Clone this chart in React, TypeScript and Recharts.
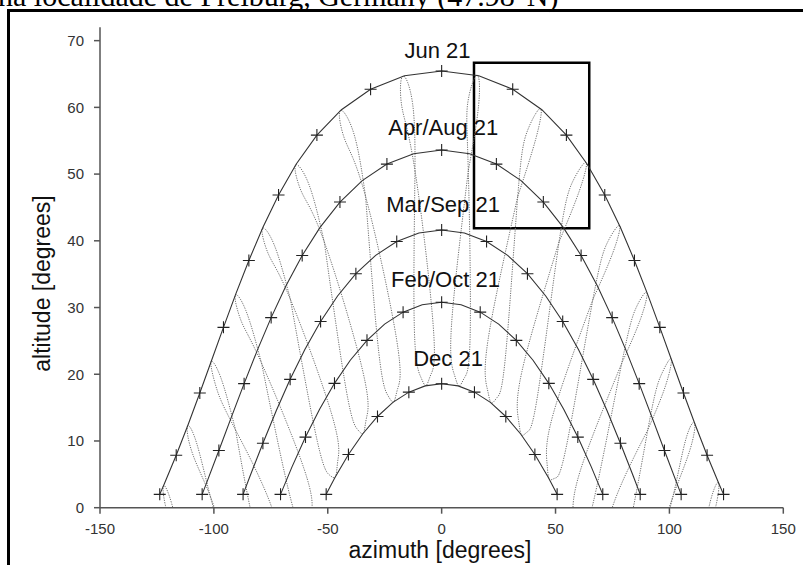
// Sun-path diagram for Freiburg (47.98°N): five day arcs with hourly "+"
// marks, and the half-hour analemmas drawn as faint dotted figure-eights.
import { Line, LineChart, ReferenceArea, ReferenceDot, XAxis, YAxis } from "recharts";

const FONT = '"Liberation Sans", Arial, sans-serif';
const AXIS = "#555";
const INK = "#333";

const xTicks = [-150, -100, -50, 0, 50, 100, 150];
const yTicks = [0, 10, 20, 30, 40, 50, 60, 70];

// Day arcs: azimuth / altitude (degrees), every half hour of solar time,
// ends where the sun is 2° up. marks = 1 where the arc carries a "+".
const junAz = [-123.77, -121.88, -116.54, -111.33, -106.18, -101.03, -95.79, -90.37, -84.64, -78.46, -71.61, -63.83, -54.77, -44.0, -31.2, -16.3, 0, 16.3, 31.2, 44.0, 54.77, 63.83, 71.61, 78.46, 84.64, 90.37, 95.79, 101.03, 106.18, 111.33, 116.54, 121.88, 123.77];
const junAlt = [2.0, 3.47, 7.85, 12.44, 17.19, 22.07, 27.03, 32.04, 37.06, 42.02, 46.87, 51.52, 55.84, 59.65, 62.72, 64.75, 65.46, 64.75, 62.72, 59.65, 55.84, 51.52, 46.87, 42.02, 37.06, 32.04, 27.03, 22.07, 17.19, 12.44, 7.85, 3.47, 2.0];
const junMarks = [1, 0, 1, 0, 1, 0, 1, 0, 1, 0, 1, 0, 1, 0, 1, 0, 1, 0, 1, 0, 1, 0, 1, 0, 1, 0, 1, 0, 1, 0, 1, 0, 1];

const aprAz = [-105.15, -103.29, -97.81, -92.32, -86.73, -80.95, -74.86, -68.34, -61.23, -53.39, -44.65, -34.87, -24.03, -12.29, 0, 12.29, 24.03, 34.87, 44.65, 53.39, 61.23, 68.34, 74.86, 80.95, 86.73, 92.32, 97.81, 103.29, 105.15];
const aprAlt = [2.0, 3.64, 8.58, 13.57, 18.59, 23.58, 28.49, 33.25, 37.79, 42.02, 45.81, 49.02, 51.5, 53.06, 53.6, 53.06, 51.5, 49.02, 45.81, 42.02, 37.79, 33.25, 28.49, 23.58, 18.59, 13.57, 8.58, 3.64, 2.0];
const aprMarks = [1, 0, 1, 0, 1, 0, 1, 0, 1, 0, 1, 0, 1, 0, 1, 0, 1, 0, 1, 0, 1, 0, 1, 0, 1, 0, 1, 0, 1];

const marAz = [-87.18, -84.15, -78.48, -72.63, -66.52, -60.06, -53.15, -45.7, -37.66, -28.98, -19.72, -9.99, 0, 9.99, 19.72, 28.98, 37.66, 45.7, 53.15, 60.06, 66.52, 72.63, 78.48, 84.15, 87.18];
const marAlt = [2.0, 4.71, 9.67, 14.53, 19.24, 23.72, 27.91, 31.73, 35.07, 37.82, 39.9, 41.18, 41.62, 41.18, 39.9, 37.82, 35.07, 31.73, 27.91, 23.72, 19.24, 14.53, 9.67, 4.71, 2.0];
const marMarks = [1, 0, 1, 0, 1, 0, 1, 0, 1, 0, 1, 0, 1, 0, 1, 0, 1, 0, 1, 0, 1, 0, 1, 0, 1];

const febAz = [-70.74, -65.7, -59.78, -53.59, -47.05, -40.12, -32.78, -25.04, -16.93, -8.54, 0, 8.54, 16.93, 25.04, 32.78, 40.12, 47.05, 53.59, 59.78, 65.7, 70.74];
const febAlt = [2.0, 6.12, 10.58, 14.77, 18.64, 22.1, 25.08, 27.51, 29.31, 30.41, 30.79, 30.41, 29.31, 27.51, 25.08, 22.1, 18.64, 14.77, 10.58, 6.12, 2.0];
const febMarks = [1, 0, 1, 0, 1, 0, 1, 0, 1, 0, 1, 0, 1, 0, 1, 0, 1, 0, 1, 0, 1];

const decAz = [-50.7, -46.9, -40.93, -34.69, -28.17, -21.4, -14.4, -7.24, 0, 7.24, 14.4, 21.4, 28.17, 34.69, 40.93, 46.9, 50.7];
const decAlt = [2.0, 4.49, 7.98, 11.05, 13.67, 15.78, 17.32, 18.26, 18.58, 18.26, 17.32, 15.78, 13.67, 11.05, 7.98, 4.49, 2.0];
const decMarks = [1, 0, 1, 0, 1, 0, 1, 0, 1, 0, 1, 0, 1, 0, 1, 0, 1];

// Arc captions and where their text sits (azimuth / altitude of its centre).
const arcLabels = ["Jun 21", "Apr/Aug 21", "Mar/Sep 21", "Feb/Oct 21", "Dec 21"];
const labelAz = [-1.8, 0.7, 0.6, 1.7, 2.8];
const labelAlt = [68.5, 57.0, 45.5, 34.3, 22.4];

// Analemmas, one per half hour from solar noon. Each starts at the loop's
// crossing, runs round the winter lobe, then the summer lobe. Points below
// 0° are clipped by the axis.
const loopAz = [
  [-112.9, -120.32, -122.17, -118.45, -112.9],
  [-95.32, -101.57, -109.41, -111.61, -107.63, -101.57, -95.32],
  [-90.52, -77.2, -71.66, -90.52, -98.81, -101.31, -97.01, -90.52],
  [-79.08, -66.23, -60.43, -57.82, -57.07, -60.41, -79.08, -87.89, -90.67, -85.97, -79.08],
  [-66.42, -54.59, -49.18, -46.57, -45.55, -48.24, -66.42, -75.8, -78.81, -73.56, -66.42],
  [-51.55, -41.79, -36.94, -34.33, -32.97, -34.73, -51.55, -61.27, -64.28, -58.45, -51.55],
  [-33.4, -27.55, -23.56, -21.01, -19.26, -19.77, -33.4, -42.4, -44.63, -38.63, -33.4],
  [-11.7, -11.96, -9.21, -6.84, -4.69, -3.7, -11.7, -17.48, -17.13, -12.74, -11.7],
  [11.7, 4.3, 5.58, 7.64, 10.09, 12.55, 11.7, 11.46, 15.47, 16.2, 11.7],
  [33.4, 20.33, 20.1, 21.79, 24.4, 28.11, 33.4, 37.62, 43.37, 41.39, 33.4],
  [51.55, 35.23, 33.74, 35.05, 37.71, 42.29, 51.55, 57.69, 63.38, 60.51, 51.55],
  [66.42, 48.69, 46.26, 47.23, 49.89, 55.04, 66.42, 72.96, 78.11, 75.2, 66.42],
  [79.08, 60.83, 57.73, 58.42, 61.09, 66.65, 79.08, 85.45, 90.07, 87.37, 79.08],
  [90.52, 72.06, 77.6, 90.52, 96.53, 100.75, 98.33, 90.52],
  [95.32, 101.57, 107.15, 111.05, 108.93, 101.57, 95.32],
  [112.9, 117.94, 121.59, 119.81, 112.9],
];
const loopAlt = [
  [-7.86, -0.96, 3.24, 0.52, -7.86],
  [-5.31, 1.71, 8.14, 12.19, 9.74, 1.71, -5.31],
  [11.68, -8.26, -3.32, 11.68, 17.87, 21.81, 19.54, 11.68],
  [21.67, 1.25, -3.32, -3.23, -0.68, 5.82, 21.67, 27.88, 31.77, 29.56, 21.67],
  [31.24, 9.96, 4.88, 4.69, 7.16, 13.96, 31.24, 37.81, 41.76, 39.43, 31.24],
  [39.85, 17.44, 11.73, 11.21, 13.51, 20.61, 39.85, 47.15, 51.28, 48.6, 39.85],
  [46.64, 23.14, 16.8, 15.88, 17.9, 25.2, 46.64, 55.07, 59.47, 56.16, 46.64],
  [50.51, 26.55, 19.62, 18.3, 19.99, 27.25, 50.51, 60.11, 64.68, 60.53, 50.51],
  [50.51, 27.22, 19.94, 18.22, 19.52, 26.47, 50.51, 60.65, 64.82, 60.23, 50.51],
  [46.64, 25.07, 17.72, 15.68, 16.54, 22.97, 46.64, 56.45, 59.83, 55.36, 46.64],
  [39.85, 20.4, 13.17, 10.89, 11.39, 17.19, 39.85, 48.99, 51.76, 47.54, 39.85],
  [31.24, 13.69, 6.72, 4.29, 4.44, 9.66, 31.24, 39.87, 42.28, 38.25, 31.24],
  [21.67, 5.5, -1.2, -3.7, -3.84, 0.91, 21.67, 30.02, 32.31, 28.34, 21.67],
  [11.68, -3.68, -8.62, 11.68, 19.99, 22.33, 18.32, 11.68],
  [-5.31, 1.71, 10.18, 12.69, 8.58, 1.71, -5.31],
  [-7.86, 0.92, 3.7, -0.56, -7.86],
];

// The framed window (azimuth and altitude ranges).
const windowAz = [14.2, 64.8];
const windowAlt = [41.9, 66.7];

type Pt = { az: number; alt: number; m: number };

const toPoints = (az: number[], alt: number[], marks?: number[]): Pt[] =>
  az.map((a, i) => ({ az: a, alt: alt[i], m: marks ? marks[i] : 0 }));

const arcs = [
  toPoints(junAz, junAlt, junMarks),
  toPoints(aprAz, aprAlt, aprMarks),
  toPoints(marAz, marAlt, marMarks),
  toPoints(febAz, febAlt, febMarks),
  toPoints(decAz, decAlt, decMarks),
];
const loops = loopAz.map((az, i) => toPoints(az, loopAlt[i]));

// "+" at the hourly points only.
function PlusDot(props: any) {
  const { cx, cy, payload, index } = props;
  const key = `p${index}`;
  if (!payload?.m || cx == null || cy == null) return <g key={key} />;
  return (
    <path
      key={key}
      d={`M${cx - 6},${cy}h12M${cx},${cy - 6}v12`}
      stroke="#222"
      strokeWidth={1.1}
      fill="none"
    />
  );
}

const tickStyle = { fill: INK, fontSize: 15, fontFamily: FONT };
const axisLine = { stroke: AXIS, strokeWidth: 1.5 };

export default function App() {
  return (
    <div
      style={{
        position: "relative",
        width: 803,
        height: 565,
        overflow: "hidden",
        background: "#fff",
      }}
    >
      <style>{"body{margin:0}"}</style>
      <div
        style={{
          position: "absolute",
          left: 7,
          top: 9,
          width: 803,
          height: 600,
          borderLeft: "3px solid #000",
          borderTop: "3px solid #000",
        }}
      />
      <div
        style={{
          position: "absolute",
          left: -2,
          top: -19,
          fontFamily: '"Liberation Serif", "Times New Roman", serif',
          fontSize: 30,
          lineHeight: "30px",
          whiteSpace: "nowrap",
          color: "#000",
        }}
      >
        na localidade de Freiburg, Germany (47.98°N)
      </div>
      <div style={{ position: "absolute", left: 0, top: 0 }}>
        <LineChart width={803} height={565} margin={{ top: 27.3, right: 19.7, bottom: 27.3, left: 40 }}>
          <XAxis
            type="number"
            dataKey="az"
            domain={[-150, 150]}
            ticks={xTicks}
            allowDataOverflow
            height={30}
            tickSize={6}
            tickMargin={10}
            tick={tickStyle}
            axisLine={axisLine}
            tickLine={axisLine}
          />
          <XAxis
            xAxisId="top"
            orientation="top"
            type="number"
            dataKey="az"
            domain={[-150, 150]}
            ticks={xTicks}
            allowDataOverflow
            height={0}
            tickSize={6}
            tick={false}
            axisLine={axisLine}
            tickLine={axisLine}
          />
          <YAxis
            type="number"
            dataKey="alt"
            domain={[0, 72]}
            ticks={yTicks}
            allowDataOverflow
            width={60}
            tickSize={6}
            tickMargin={10}
            tick={tickStyle}
            axisLine={axisLine}
            tickLine={axisLine}
          />
          <YAxis
            yAxisId="right"
            orientation="right"
            type="number"
            dataKey="alt"
            domain={[0, 72]}
            ticks={yTicks}
            allowDataOverflow
            width={0}
            tickSize={6}
            tick={false}
            axisLine={axisLine}
            tickLine={axisLine}
          />
          {loops.map((pts, i) => (
            <Line
              key={`loop${i}`}
              data={pts}
              dataKey="alt"
              type="natural"
              stroke="#6f6f6f"
              strokeWidth={1}
              strokeDasharray="1.2 1.2"
              dot={false}
              activeDot={false}
              isAnimationActive={false}
            />
          ))}
          {arcs.map((pts, i) => (
            <Line
              key={`arc${i}`}
              data={pts}
              dataKey="alt"
              type="linear"
              stroke="#333"
              strokeWidth={1.1}
              dot={PlusDot}
              activeDot={false}
              isAnimationActive={false}
            />
          ))}
          <ReferenceArea
            x1={windowAz[0]}
            x2={windowAz[1]}
            y1={windowAlt[0]}
            y2={windowAlt[1]}
            fill="none"
            fillOpacity={0}
            stroke="#000"
            strokeWidth={2.5}
          />
          {arcLabels.map((text, i) => (
            <ReferenceDot
              key={text}
              x={labelAz[i]}
              y={labelAlt[i]}
              r={0}
              fill="none"
              stroke="none"
              label={{ value: text, position: "center", fill: "#111", fontSize: 22, fontFamily: FONT }}
            />
          ))}
        </LineChart>
      </div>
      <div
        style={{
          position: "absolute",
          left: 290,
          top: 538.5,
          width: 300,
          textAlign: "center",
          fontFamily: FONT,
          fontSize: 23,
          lineHeight: "23px",
          color: "#111",
        }}
      >
        azimuth [degrees]
      </div>
      <div
        style={{
          position: "absolute",
          left: -108,
          top: 272,
          width: 300,
          height: 23,
          textAlign: "center",
          fontFamily: FONT,
          fontSize: 23,
          lineHeight: "23px",
          color: "#111",
          transform: "rotate(-90deg)",
        }}
      >
        altitude [degrees]
      </div>
    </div>
  );
}
